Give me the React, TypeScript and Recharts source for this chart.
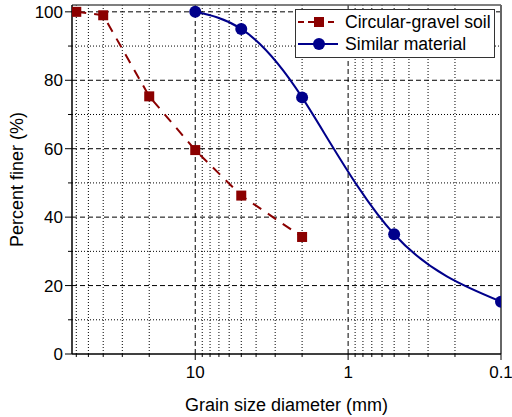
import { LineChart, Line, XAxis, YAxis, ReferenceLine, Legend } from "recharts";

// sieve results
const gravelSize = [60, 40, 20, 10, 5, 2];
const gravelFiner = [100, 99, 75.3, 59.6, 46.3, 34.2];
const similarSize = [10, 5, 2, 0.5, 0.1];
const similarFiner = [100, 95, 75, 35, 15.3];

const xMajor = [10, 1, 0.1];
const xMinor = [60, 50, 40, 30, 20, 9, 8, 7, 6, 5, 4, 3, 2, 0.9, 0.8, 0.7, 0.6, 0.5, 0.4, 0.3, 0.2];
const yMajor = [0, 20, 40, 60, 80, 100];
const yMinor = [10, 30, 50, 70, 90];

const gravelData = gravelSize.map((d, i) => ({ d, p: gravelFiner[i] }));
const similarData = similarSize.map((d, i) => ({ d, p: similarFiner[i] }));

const FONT = "'Liberation Sans', Arial, sans-serif";
const RED = "#8b0000";
const BLUE = "#00008b";

const XTick = (props: any) => {
  const { x, y, payload } = props;
  const major = xMajor.includes(payload.value);
  return (
    <g>
      <line x1={x} x2={x} y1={y} y2={y + (major ? 6 : 3)} stroke="#000" />
      {major && (
        <text x={x} y={y + 24} textAnchor="middle" fontFamily={FONT} fontSize={17} fill="#000">
          {payload.value}
        </text>
      )}
    </g>
  );
};

const YTick = (props: any) => {
  const { x, y, payload } = props;
  const major = yMajor.includes(payload.value);
  return (
    <g>
      <line x1={x - (major ? 7 : 4)} x2={x} y1={y} y2={y} stroke="#000" />
      {major && (
        <text x={x - 9} y={y + 6} textAnchor="end" fontFamily={FONT} fontSize={17} fill="#000">
          {payload.value}
        </text>
      )}
    </g>
  );
};

const Square = (props: any) => {
  const { cx, cy } = props;
  return <rect x={cx - 5} y={cy - 5} width={10} height={10} fill={RED} />;
};

const LegendBox = () => (
  <div
    style={{
      border: "1px solid #333",
      background: "#fff",
      padding: "1px 3px 2px 2px",
      fontFamily: FONT,
      fontSize: 17.6,
      lineHeight: "22px",
      color: "#000",
    }}
  >
    <div style={{ display: "flex", alignItems: "center" }}>
      <svg width={44} height={14} style={{ marginRight: 3 }}>
        <line x1={0} x2={40} y1={7} y2={7} stroke={RED} strokeWidth={2} strokeDasharray="6 4" />
        <rect x={16} y={2} width={10} height={10} fill={RED} />
      </svg>
      Circular-gravel soil
    </div>
    <div style={{ display: "flex", alignItems: "center" }}>
      <svg width={44} height={14} style={{ marginRight: 3 }}>
        <line x1={0} x2={40} y1={7} y2={7} stroke={BLUE} strokeWidth={2} />
        <circle cx={21} cy={7} r={6} fill={BLUE} />
      </svg>
      Similar material
    </div>
  </div>
);

export default function App() {
  return (
    <div style={{ position: "absolute", left: 0, top: 0 }}>
      <LineChart
        width={512}
        height={417}
        margin={{ top: 5, right: 11, bottom: 0, left: 0 }}
        style={{ overflow: "visible" }}
      >
        <XAxis
          type="number"
          dataKey="d"
          scale="log"
          domain={[0.1, 64]}
          reversed
          allowDataOverflow
          ticks={[...xMajor, ...xMinor]}
          interval={0}
          tickSize={0}
          tickMargin={0}
          tickLine={false}
          tick={<XTick />}
          axisLine={{ stroke: "#000", strokeWidth: 1.5 }}
          height={63}
          label={{
            value: "Grain size diameter (mm)",
            position: "insideBottom",
            offset: 6,
            style: { fontFamily: FONT, fontSize: 18, fill: "#000" },
          }}
        />
        <YAxis
          type="number"
          dataKey="p"
          domain={[0, 102]}
          allowDataOverflow
          ticks={[...yMajor, ...yMinor]}
          interval={0}
          tickSize={0}
          tickMargin={0}
          tickLine={false}
          tick={<YTick />}
          axisLine={{ stroke: "#000", strokeWidth: 1.5 }}
          width={72}
          label={{
            value: "Percent finer (%)",
            angle: -90,
            position: "insideLeft",
            offset: 17,
            style: { textAnchor: "middle", fontFamily: FONT, fontSize: 18, fill: "#000" },
          }}
        />
        {xMinor.map((v) => (
          <ReferenceLine key={"xm" + v} x={v} stroke="#000" strokeWidth={1} strokeDasharray="1 2" />
        ))}
        {yMinor.map((v) => (
          <ReferenceLine key={"ym" + v} y={v} stroke="#000" strokeWidth={1} strokeDasharray="1 2" />
        ))}
        {[10, 1].map((v) => (
          <ReferenceLine key={"xM" + v} x={v} stroke="#000" strokeWidth={1} strokeDasharray="5 3" />
        ))}
        {yMajor.slice(1).map((v) => (
          <ReferenceLine key={"yM" + v} y={v} stroke="#000" strokeWidth={1} strokeDasharray="5 3" />
        ))}
        <ReferenceLine y={102} stroke="#555" strokeWidth={1.5} />
        <ReferenceLine x={0.1} stroke="#666" strokeWidth={2} />
        <Line
          data={gravelData}
          dataKey="p"
          type="linear"
          stroke={RED}
          strokeWidth={2}
          strokeDasharray="10 8"
          dot={<Square />}
          isAnimationActive={false}
        />
        <Line
          data={similarData}
          dataKey="p"
          type="natural"
          stroke={BLUE}
          strokeWidth={2}
          dot={{ r: 6, fill: BLUE, stroke: BLUE, strokeWidth: 0 }}
          isAnimationActive={false}
        />
        <Legend
          layout="horizontal"
          verticalAlign="middle"
          align="center"
          content={<LegendBox />}
          wrapperStyle={{ top: 9, left: 295, width: "auto" }}
        />
      </LineChart>
    </div>
  );
}
